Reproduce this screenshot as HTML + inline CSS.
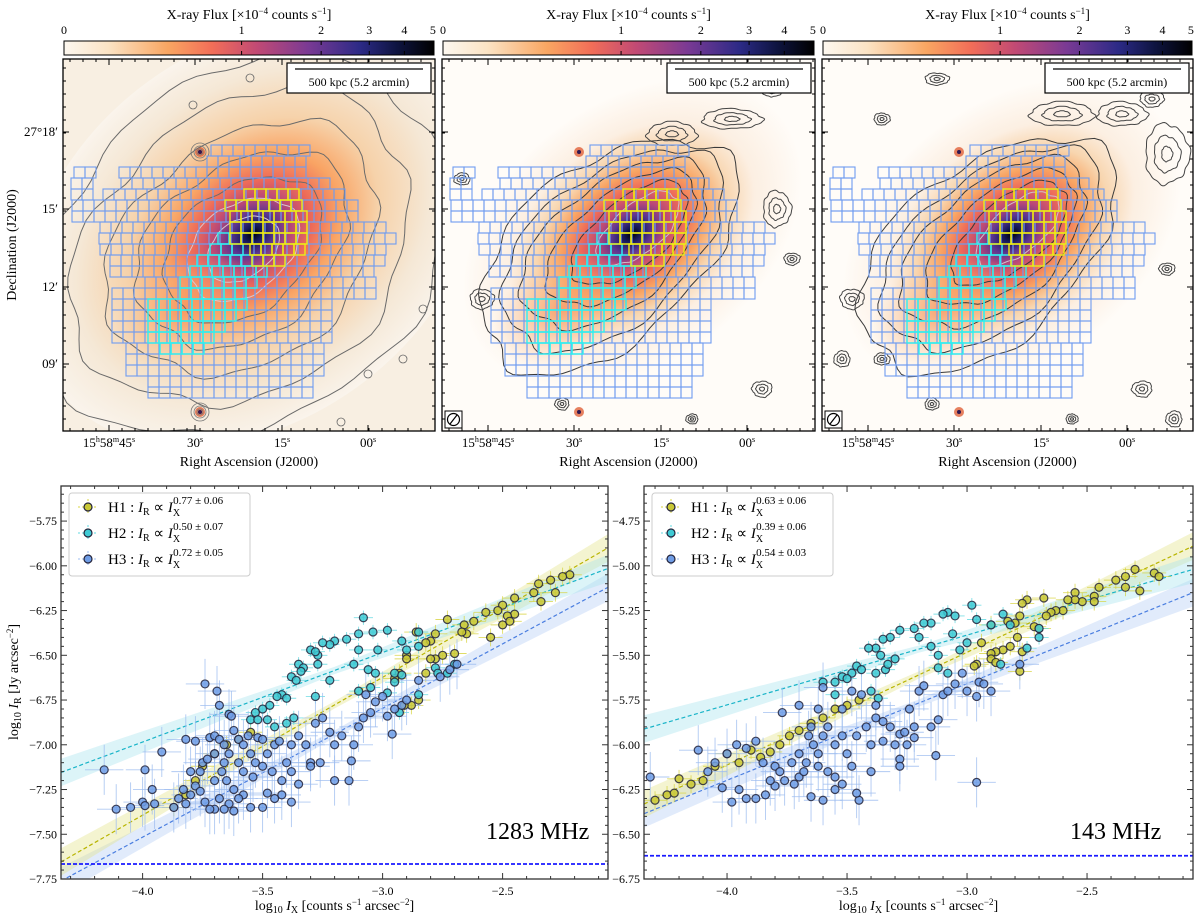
<!DOCTYPE html>
<html><head><meta charset="utf-8">
<style>
html,body{margin:0;padding:0;background:#fff;}
svg{display:block;font-family:"Liberation Serif",serif;}
</style></head>
<body>
<svg id="fig" width="1200" height="923" viewBox="0 0 1200 923" xmlns="http://www.w3.org/2000/svg">
<defs>
<linearGradient id="cmap" x1="0" x2="1" y1="0" y2="0">
<stop offset="0" stop-color="#fdf8f0"/><stop offset="0.12" stop-color="#fbe3c4"/>
<stop offset="0.28" stop-color="#f9a662"/><stop offset="0.4" stop-color="#f26e58"/>
<stop offset="0.52" stop-color="#c24a74"/><stop offset="0.66" stop-color="#7a3a94"/>
<stop offset="0.8" stop-color="#2c2a86"/><stop offset="0.9" stop-color="#0e1440"/>
<stop offset="1" stop-color="#000"/></linearGradient>
<radialGradient id="g1" gradientUnits="userSpaceOnUse" cx="0" cy="0" r="1">
<stop offset="0" stop-color="#000"/><stop offset="0.04" stop-color="#151a5a"/>
<stop offset="0.1" stop-color="#5a3590"/><stop offset="0.17" stop-color="#b84878"/>
<stop offset="0.26" stop-color="#ee6a58"/><stop offset="0.38" stop-color="#f9a464"/>
<stop offset="0.55" stop-color="#f6d2aa"/><stop offset="0.78" stop-color="#f5e8d6"/>
<stop offset="1" stop-color="#faf4ec"/></radialGradient>
<radialGradient id="g2" gradientUnits="userSpaceOnUse" cx="0" cy="0" r="1">
<stop offset="0" stop-color="#000"/><stop offset="0.05" stop-color="#151a5a"/>
<stop offset="0.12" stop-color="#5a3590"/><stop offset="0.2" stop-color="#b84878"/>
<stop offset="0.3" stop-color="#ee6a58"/><stop offset="0.42" stop-color="#f9a462"/>
<stop offset="0.56" stop-color="#f8d6b0"/><stop offset="0.72" stop-color="#fcefe2"/>
<stop offset="1" stop-color="#fffcf8"/></radialGradient>
<radialGradient id="gsw" gradientUnits="userSpaceOnUse" cx="0" cy="0" r="1">
<stop offset="0" stop-color="#f7905a" stop-opacity="0.75"/>
<stop offset="0.6" stop-color="#f8b07a" stop-opacity="0.35"/>
<stop offset="1" stop-color="#f8c090" stop-opacity="0"/></radialGradient>
</defs>
</svg>
<script>
// ---------- chart data (bottom panels) ----------
const xTicks=[-4.0,-3.5,-3.0,-2.5];
const xTickLabels=["\u22124.0","\u22123.5","\u22123.0","\u22122.5"];
const yTicksL=[-5.75,-6.0,-6.25,-6.5,-6.75,-7.0,-7.25,-7.5,-7.75];
const yTickLabelsL=["\u22125.75","\u22126.00","\u22126.25","\u22126.50","\u22126.75","\u22127.00","\u22127.25","\u22127.50","\u22127.75"];
const yTicksR=[-4.75,-5.0,-5.25,-5.5,-5.75,-6.0,-6.25,-6.5,-6.75];
const yTickLabelsR=["\u22124.75","\u22125.00","\u22125.25","\u22125.50","\u22125.75","\u22126.00","\u22126.25","\u22126.50","\u22126.75"];
const slopesL=[0.77,0.50,0.72];
const slopeErrL=["0.77 \u00b1 0.06","0.50 \u00b1 0.07","0.72 \u00b1 0.05"];
const interceptsAtRightL=[-5.90,-6.015,-6.12];
const slopesR=[0.63,0.39,0.54];
const slopeErrR=["0.63 \u00b1 0.06","0.39 \u00b1 0.06","0.54 \u00b1 0.03"];
const interceptsAtRightR=[-4.89,-5.02,-5.15];
const noiseL=-7.666, noiseR=-6.62;
const h1L=[[-2.22,-6.05],[-2.25,-6.06],[-2.3,-6.08],[-2.35,-6.1],[-2.34,-6.2],[-2.28,-6.15],[-2.37,-6.15],[-2.45,-6.18],[-2.5,-6.22],[-2.45,-6.27],[-2.48,-6.28],[-2.52,-6.25],[-2.57,-6.26],[-2.55,-6.4],[-2.5,-6.33],[-2.47,-6.31],[-2.62,-6.31],[-2.66,-6.33],[-2.65,-6.38],[-2.67,-6.37],[-2.73,-6.3],[-2.78,-6.38],[-2.8,-6.42],[-2.82,-6.43],[-2.9,-6.5],[-2.75,-6.5],[-2.78,-6.52],[-2.8,-6.52],[-2.7,-6.49],[-2.9,-6.52],[-2.93,-6.6],[-2.95,-6.63],[-2.88,-6.78],[-2.85,-6.75],[-2.82,-6.6],[-2.86,-6.37],[-2.91,-6.78],[-3.87,-7.35],[-3.82,-7.28],[-3.78,-7.2],[-3.75,-7.12],[-3.7,-7.05],[-3.65,-7.0],[-3.6,-6.97],[-3.55,-6.93]];
const h2L=[[-3.08,-6.29],[-2.98,-6.36],[-3.04,-6.37],[-3.1,-6.38],[-3.15,-6.41],[-3.2,-6.42],[-3.22,-6.44],[-3.25,-6.43],[-3.3,-6.47],[-3.27,-6.5],[-3.28,-6.48],[-3.1,-6.47],[-3.02,-6.47],[-2.9,-6.47],[-2.85,-6.45],[-2.85,-6.37],[-2.92,-6.42],[-3.35,-6.55],[-3.33,-6.57],[-3.27,-6.55],[-3.34,-6.59],[-3.38,-6.62],[-3.36,-6.64],[-3.22,-6.64],[-3.12,-6.55],[-3.06,-6.58],[-3.03,-6.6],[-2.95,-6.6],[-2.95,-6.65],[-2.92,-6.61],[-2.78,-6.57],[-2.7,-6.55],[-2.77,-6.6],[-2.73,-6.6],[-3.42,-6.72],[-3.4,-6.74],[-3.44,-6.73],[-3.28,-6.73],[-3.5,-6.8],[-3.47,-6.78],[-3.53,-6.82],[-3.55,-6.86],[-3.52,-6.86],[-3.48,-6.86],[-3.4,-6.88],[-3.37,-6.85],[-3.1,-6.7],[-3.05,-6.68],[-2.98,-6.71],[-2.93,-6.82],[-2.85,-6.72],[-3.45,-6.9]];
const h3L=[[-4.16,-7.14],[-4.11,-7.36],[-4.05,-7.35],[-4.0,-7.32],[-3.99,-7.34],[-3.95,-7.33],[-3.96,-7.25],[-3.99,-7.14],[-3.92,-7.04],[-3.87,-7.35],[-3.85,-7.3],[-3.83,-7.25],[-3.82,-7.33],[-3.8,-7.28],[-3.78,-7.23],[-3.76,-7.15],[-3.8,-7.15],[-3.82,-6.97],[-3.78,-6.98],[-3.75,-7.1],[-3.73,-7.08],[-3.72,-6.96],[-3.74,-6.66],[-3.69,-6.7],[-3.68,-6.78],[-3.7,-6.95],[-3.68,-6.97],[-3.66,-7.0],[-3.64,-6.83],[-3.63,-6.84],[-3.62,-6.92],[-3.64,-7.05],[-3.66,-7.1],[-3.6,-6.97],[-3.58,-7.0],[-3.56,-6.95],[-3.55,-7.05],[-3.53,-7.1],[-3.52,-6.96],[-3.5,-6.97],[-3.48,-7.05],[-3.45,-7.0],[-3.43,-6.98],[-3.4,-7.1],[-3.38,-7.0],[-3.35,-6.95],[-3.32,-7.0],[-3.3,-7.1],[-3.28,-6.88],[-3.25,-6.85],[-3.22,-6.93],[-3.2,-7.0],[-3.17,-6.95],[-3.13,-7.09],[-3.12,-7.0],[-3.1,-6.9],[-3.08,-6.85],[-3.05,-6.82],[-3.03,-6.76],[-3.0,-6.73],[-2.98,-6.84],[-2.96,-6.94],[-2.95,-6.8],[-2.92,-6.78],[-3.07,-6.72],[-3.2,-7.2],[-3.14,-7.2],[-3.35,-7.22],[-3.38,-7.32],[-3.42,-7.28],[-3.45,-7.3],[-3.48,-7.27],[-3.5,-7.35],[-3.55,-7.35],[-3.58,-7.28],[-3.6,-7.3],[-3.62,-7.37],[-3.64,-7.33],[-3.66,-7.36],[-3.68,-7.3],[-3.7,-7.36],[-3.72,-7.36],[-3.74,-7.32],[-3.76,-7.26],[-3.7,-7.2],[-3.65,-7.2],[-3.62,-7.25],[-3.58,-7.15],[-3.54,-7.18],[-3.5,-7.12],[-3.46,-7.15],[-3.42,-7.2],[-3.38,-7.15],[-3.3,-7.12],[-3.26,-7.1],[-2.76,-6.62],[-2.69,-6.55],[-2.72,-6.58],[-2.85,-6.64],[-2.9,-6.75],[-3.6,-7.1],[-3.67,-7.15],[-3.7,-7.05]];
const h1R=[[-2.3,-5.02],[-2.34,-5.06],[-2.38,-5.08],[-2.22,-5.04],[-2.2,-5.06],[-2.28,-5.14],[-2.34,-5.12],[-2.45,-5.12],[-2.47,-5.17],[-2.47,-5.2],[-2.52,-5.2],[-2.55,-5.15],[-2.55,-5.19],[-2.58,-5.19],[-2.6,-5.25],[-2.63,-5.25],[-2.65,-5.26],[-2.67,-5.28],[-2.68,-5.18],[-2.75,-5.19],[-2.77,-5.21],[-2.8,-5.32],[-2.78,-5.28],[-2.83,-5.31],[-2.72,-5.34],[-2.79,-5.4],[-2.82,-5.45],[-2.85,-5.47],[-2.88,-5.48],[-2.9,-5.49],[-2.9,-5.52],[-2.94,-5.43],[-2.96,-5.55],[-2.97,-5.56],[-2.78,-5.59],[-2.77,-5.48],[-2.7,-5.35],[-2.88,-5.54],[-2.9,-5.33],[-4.3,-6.31],[-4.25,-6.28],[-4.22,-6.27],[-4.2,-6.19],[-4.15,-6.22],[-4.1,-6.2],[-4.05,-6.12],[-4.0,-6.05],[-3.95,-6.1],[-3.9,-6.03],[-3.86,-6.07],[-3.82,-6.04],[-3.78,-6.0],[-3.74,-5.95],[-3.7,-5.92],[-3.65,-5.88],[-3.6,-5.85],[-3.55,-5.8],[-3.5,-5.78],[-3.45,-5.75]];
const h2R=[[-2.98,-5.22],[-3.08,-5.26],[-3.1,-5.27],[-3.15,-5.32],[-3.18,-5.32],[-3.22,-5.35],[-3.28,-5.36],[-3.32,-5.4],[-3.35,-5.41],[-3.38,-5.46],[-3.41,-5.46],[-3.36,-5.5],[-3.3,-5.52],[-3.2,-5.4],[-3.15,-5.45],[-3.05,-5.28],[-2.96,-5.3],[-2.9,-5.33],[-2.85,-5.27],[-2.82,-5.33],[-2.7,-5.35],[-2.7,-5.4],[-2.75,-5.46],[-2.86,-5.55],[-3.0,-5.43],[-3.06,-5.38],[-3.12,-5.5],[-3.46,-5.56],[-3.48,-5.6],[-3.52,-5.62],[-3.55,-5.65],[-3.5,-5.63],[-3.44,-5.58],[-3.38,-5.6],[-3.34,-5.58],[-3.4,-5.7],[-3.37,-5.74],[-3.33,-5.55],[-3.55,-5.72],[-3.6,-5.65],[-3.12,-5.57],[-3.08,-5.6],[-3.03,-5.47]];
const h3R=[[-4.32,-6.18],[-4.12,-6.03],[-4.0,-6.05],[-3.96,-6.0],[-3.92,-6.02],[-3.88,-5.98],[-3.85,-6.1],[-3.8,-6.12],[-3.77,-5.82],[-3.7,-5.78],[-3.65,-5.9],[-3.6,-5.68],[-3.58,-5.9],[-3.55,-6.0],[-3.52,-5.95],[-3.5,-6.05],[-3.48,-6.12],[-3.46,-5.95],[-3.42,-5.9],[-3.4,-6.0],[-3.38,-5.85],[-3.35,-5.87],[-3.32,-5.9],[-3.3,-6.0],[-3.28,-5.94],[-3.26,-5.93],[-3.24,-5.8],[-3.22,-5.9],[-3.2,-5.7],[-3.18,-5.67],[-3.15,-5.9],[-3.12,-5.86],[-3.1,-5.72],[-3.08,-5.7],[-3.05,-5.66],[-3.02,-5.6],[-3.0,-5.7],[-2.96,-5.73],[-2.95,-5.65],[-2.93,-5.66],[-2.9,-5.7],[-2.78,-5.55],[-2.96,-6.21],[-3.13,-6.06],[-3.28,-6.08],[-3.28,-6.12],[-3.45,-6.31],[-3.46,-6.27],[-3.55,-6.25],[-3.6,-6.31],[-3.65,-6.29],[-3.7,-6.18],[-3.72,-6.22],[-3.76,-6.2],[-3.8,-6.23],[-3.84,-6.28],[-3.88,-6.3],[-3.92,-6.3],[-3.95,-6.25],[-3.98,-6.32],[-4.02,-6.24],[-3.67,-6.1],[-3.62,-6.05],[-3.58,-6.15],[-3.55,-6.18],[-3.52,-6.22],[-3.7,-6.05],[-3.73,-6.1],[-3.78,-6.15],[-3.82,-6.2],[-3.64,-6.0],[-3.62,-6.12],[-3.68,-6.15],[-3.6,-5.95],[-3.66,-5.95],[-3.4,-6.15],[-3.35,-5.98],[-3.25,-6.0],[-3.22,-5.96],[-3.38,-5.78],[-3.44,-5.72],[-3.48,-5.7],[-3.52,-5.8],[-3.62,-5.8],[-4.05,-6.1],[-4.08,-6.15]];
const xErr=[0.05,0.04,0.08], yErr=[0.05,0.04,0.14];

// ---------- top panel grid layout (cell rows) ----------
const gridRows=[[145,211,309],[156,207,314],[167,74,96],[167,119,314],[178,71,101],[178,121,336],[189,71,101],[189,103,352],[200,72,365],[211,72,365],[222,100,385],[233,99,401],[244,100,393],[255,110,388],[266,110,373],[277,145,378],[288,112,377],[299,112,332],[310,112,332],[321,112,332],[332,112,332],[343,126,330],[354,126,330],[365,126,330],[376,148,320],[387,148,320]];
const yellowRows=[[189,244,297],[200,225,305],[211,230,305],[222,230,305],[233,230,305],[244,250,305],[255,252,284]];
const cyanRows=[[233,218,230],[244,210,250],[255,197,252],[266,190,265],[277,180,265],[288,180,250],[299,148,245],[310,148,240],[321,148,225],[332,148,212],[343,160,202]];

const NS="http://www.w3.org/2000/svg";
const svg=document.getElementById('fig');
function mk(tag,attrs,parent){const e=document.createElementNS(NS,tag);for(const k in attrs)e.setAttribute(k,attrs[k]);(parent||svg).appendChild(e);return e;}
function wobbly(cx,cy,rx,ry,rot,amp,seed){
  let d='';const a=rot*Math.PI/180;
  for(let t=0;t<=90;t++){const th=t/90*2*Math.PI;
    const r=1+amp*(Math.sin(7*th+seed)*0.5+Math.sin(13*th+2*seed)*0.3+Math.sin(3*th+seed*0.7)*0.6);
    const ex=rx*r*Math.cos(th), ey=ry*r*Math.sin(th);
    const X=cx+ex*Math.cos(a)-ey*Math.sin(a), Y=cy+ex*Math.sin(a)+ey*Math.cos(a);
    d+=(t?'L':'M')+X.toFixed(1)+' '+Y.toFixed(1);}
  return d+'Z';
}

// ---------- top panels ----------
const panels=[{x:63,y:59,w:372,h:372,dx:0,grad:'g1',radio:false},{x:442,y:59,w:373,h:372,dx:379,grad:'g2',radio:true},{x:822,y:59,w:371,h:372,dx:759,grad:'g2',radio:true}];
const cbTicks=[0,1,2,3,4,5], cbPos=[0,0.48,0.695,0.825,0.92,0.997];
panels.forEach((p,i)=>{
  const g=mk('g',{});
  
  
  const cp=mk('clipPath',{id:'cp'+i},g); mk('rect',{x:p.x,y:p.y,width:p.w,height:p.h},cp);
  const inner=mk('g',{'clip-path':'url(#cp'+i+')'},g);
  mk('rect',{x:p.x,y:p.y,width:p.w,height:p.h,fill:p.grad==='g1'?'#f8efe2':'#fffcf8'},inner);
  const cx=p.x+190, cy=p.y+175;
  const el=mk('ellipse',{cx:0,cy:0,rx:1,ry:1,fill:'url(#'+p.grad+')',transform:`translate(${cx},${cy}) rotate(-38) scale(${p.radio?190:250},${p.radio?130:185})`},inner);
  
  
  mk('ellipse',{cx:0,cy:0,rx:1,ry:1,fill:'url(#gsw)',transform:`translate(${p.x+120},${p.y+250}) rotate(-30) scale(75,50)`},inner);
  // point sources
  [[137,93],[137,353]].forEach(s=>{mk('circle',{cx:p.x+s[0],cy:p.y+s[1],r:5,fill:'#e0603a',opacity:0.8},inner);mk('circle',{cx:p.x+s[0],cy:p.y+s[1],r:2,fill:'#301850'},inner);});
  // contours
  if(!p.radio){
    [[40,28,0.03],[62,44,0.04],[88,62,0.05],[118,84,0.06],[150,110,0.06],[185,140,0.06],[222,170,0.05]].forEach((a,k)=>{
      mk('path',{d:wobbly(p.x+180,p.y+190,a[0],a[1],-38,a[2],k),fill:'none',stroke:k<2?'#d8c8d0':'#6a6a6a','stroke-width':1},inner);
    });
    [[137,93],[137,353]].forEach(s=>{[3,6,9].forEach(r=>mk('circle',{cx:p.x+s[0],cy:p.y+s[1],r:r,fill:'none',stroke:'#777','stroke-width':0.8},inner));});
    [[187,19],[130,46],[340,300],[305,315],[278,363],[360,250]].forEach(s=>mk('circle',{cx:p.x+s[0],cy:p.y+s[1],r:4,fill:'none',stroke:'#666','stroke-width':0.8},inner));
  } else {
    const shapes=[[165,195,150,88,0.07],[170,190,130,74,0.06],[172,185,110,60,0.06],[180,180,90,46,0.05],[188,175,70,34,0.05],[196,170,50,24,0.05]];
    shapes.forEach((s,k)=>{
      mk('path',{d:wobbly(p.x+s[0],p.y+s[1],s[2],s[3],-40,s[4],k+i),fill:'none',stroke:k>4?'#d0c0cc':'#3a3a3a','stroke-width':1},inner);
    });
    const blobs=i===2?[[240,55,32,12],[300,55,25,12],[345,95,22,30],[115,20,12,6],[30,240,12,10],[345,210,8,6],[320,330,10,8],[352,360,8,8],[20,300,8,8],[60,300,8,6],[110,345,7,6],[250,360,6,5],[60,60,8,6],[330,40,12,8]]:[[230,75,25,12],[290,60,30,10],[335,150,14,18],[40,240,12,10],[350,200,8,6],[320,330,10,8],[120,345,7,6],[250,360,6,5],[20,120,8,6],[330,30,10,8]];
    blobs.forEach((b,k)=>{[1,0.6,0.25].forEach(f=>mk('path',{d:wobbly(p.x+b[0],p.y+b[1],b[2]*f,b[3]*f,0,0.08,k),fill:'none',stroke:'#444','stroke-width':1},inner));});
    // beam
    mk('rect',{x:p.x+3,y:p.y+p.h-20,width:17,height:17,fill:'#fff',stroke:'#000','stroke-width':1},g);
    mk('circle',{cx:p.x+11.5,cy:p.y+p.h-11.5,r:6,fill:'none',stroke:'#000','stroke-width':1.2},g);
    mk('line',{x1:p.x+8,y1:p.y+p.h-7,x2:p.x+15,y2:p.y+p.h-16,stroke:'#000','stroke-width':1.2},g);
  }
  // grid cells
  const drawRows=(rows,col,sw)=>rows.forEach(r=>{for(let x=r[1];x+10<=r[2]+1;x+=11){
    const c=mk('rect',{x:x+p.dx,y:r[0],width:11,height:11,fill:'none',stroke:col,'stroke-width':sw},inner);
    
    }});
  drawRows(gridRows,'#6f9cf0',1.1);drawRows(cyanRows,'#2ef0f0',1.4);drawRows(yellowRows,'#f0ec10',1.4);
  // frame & ticks
  mk('rect',{x:p.x,y:p.y,width:p.w,height:p.h,fill:'none',stroke:'#000','stroke-width':1.3},g);
  const raX=[109,195,282,368], decY=[132,209,287,364];
  for(let k=0;k<30;k++){const tx=p.x+7+k*13;if(tx>p.x+p.w-2)break;mk('line',{x1:tx,y1:p.y+p.h,x2:tx,y2:p.y+p.h-3,stroke:'#000'},g);mk('line',{x1:tx,y1:p.y,x2:tx,y2:p.y+3,stroke:'#000'},g);}
  for(let k=0;k<30;k++){const ty=p.y+9+k*13;if(ty>p.y+p.h-2)break;mk('line',{x1:p.x,y1:ty,x2:p.x+3,y2:ty,stroke:'#000'},g);mk('line',{x1:p.x+p.w,y1:ty,x2:p.x+p.w-3,y2:ty,stroke:'#000'},g);}
  raX.forEach(x=>{mk('line',{x1:x+p.dx,y1:p.y+p.h,x2:x+p.dx,y2:p.y+p.h-6,stroke:'#000'},g);mk('line',{x1:x+p.dx,y1:p.y,x2:x+p.dx,y2:p.y+6,stroke:'#000'},g);});
  decY.forEach(y=>{mk('line',{x1:p.x,y1:y,x2:p.x+6,y2:y,stroke:'#000'},g);mk('line',{x1:p.x+p.w,y1:y,x2:p.x+p.w-6,y2:y,stroke:'#000'},g);});
  const raL=['15<tspan font-size="8" dy="-5">h</tspan><tspan dy="5">58</tspan><tspan font-size="8" dy="-5">m</tspan><tspan dy="5">45</tspan><tspan font-size="8" dy="-5">s</tspan>','30<tspan font-size="8" dy="-5">s</tspan>','15<tspan font-size="8" dy="-5">s</tspan>','00<tspan font-size="8" dy="-5">s</tspan>'];
  raX.forEach((x,k)=>{const t=mk('text',{x:x+p.dx,y:447,'text-anchor':'middle','font-size':13},g);t.innerHTML=raL[k];
    
    });
  const xt=mk('text',{x:p.x+p.w/2,y:466,'text-anchor':'middle','font-size':14},g);xt.textContent='Right Ascension (J2000)';
  
  
  // scale bar
  const sb=mk('g',{},g);
  
  
  mk('rect',{x:p.x+p.w-148,y:p.y+4,width:144,height:30,fill:'#fff',stroke:'#000','stroke-width':1.2},sb);
  mk('line',{x1:p.x+p.w-140,y1:p.y+10,x2:p.x+p.w-12,y2:p.y+10,stroke:'#000','stroke-width':1.3},sb);
  const st=mk('text',{x:p.x+p.w-76,y:p.y+27,'text-anchor':'middle','font-size':12},sb);st.textContent='500 kpc (5.2 arcmin)';
  // colorbar
  const cb=mk('g',{},g);
  
  
  mk('rect',{x:p.x+1,y:41,width:p.w-2,height:14,fill:'url(#cmap)',stroke:'#000','stroke-width':1},cb);
  cbTicks.forEach((v,k)=>{const x=p.x+1+cbPos[k]*(p.w-2);mk('line',{x1:x,y1:41,x2:x,y2:45,stroke:'#000'},cb);mk('line',{x1:x,y1:55,x2:x,y2:51,stroke:'#000'},cb);
    const t=mk('text',{x:x,y:34,'text-anchor':'middle','font-size':12},cb);t.textContent=v;});
  const ct=mk('text',{x:p.x+p.w/2,y:19,'text-anchor':'middle','font-size':14},cb);
  ct.innerHTML='X-ray Flux [\u00d710<tspan font-size="9" dy="-5">\u22124</tspan><tspan dy="5"> counts s</tspan><tspan font-size="9" dy="-5">\u22121</tspan><tspan dy="5">]</tspan>';
});
// dec labels
['27\u00b018\u2032','15\u2032','12\u2032','09\u2032'].forEach((s,k)=>{const t=mk('text',{x:58,y:[132,209,287,364][k]+4,'text-anchor':'end','font-size':13});t.textContent=s;
  
  });
const dt=mk('text',{x:0,y:0,'text-anchor':'middle','font-size':14,transform:'translate(16,245) rotate(-90)'});dt.textContent='Declination (J2000)';



// ---------- bottom scatter plots ----------
const plots=[
 {name:'1283mhz',L:61,R:608,T:486,B:879,xmin:-4.34,yTop:-5.554,yBot:-7.75,yT:yTicksL,yL:yTickLabelsL,slopes:slopesL,ints:interceptsAtRightL,err:slopeErrL,noise:noiseL,series:[h1L,h2L,h3L],label:'1283 MHz',lx:486,ylabel:true},
 {name:'143mhz',L:644,R:1193,T:486,B:879,xmin:-4.346,yTop:-4.554,yBot:-6.75,yT:yTicksR,yL:yTickLabelsR,slopes:slopesR,ints:interceptsAtRightR,err:slopeErrR,noise:noiseR,series:[h1R,h2R,h3R],label:'143 MHz',lx:1070,ylabel:false}];
const fill=['#c9c836','#3ecad4','#6f9de6'], lineC=['#b8b400','#18b4c8','#4a7ee0'], errC=['#d8d440','#60d8e0','#9cbcf0'], bandC=['#e4e48a','#a8e4ee','#b4ccf4'];
plots.forEach(P=>{
  const xmax=P.xmin+(P.R-P.L)/240;
  const sx=v=>P.L+(v-P.xmin)*240, sy=v=>P.T+(P.yTop-v)*(P.B-P.T)/(P.yTop-P.yBot);
  const g=mk('g',{});
  
  
  const cid='pc'+P.name;const cp=mk('clipPath',{id:cid},g);mk('rect',{x:P.L,y:P.T,width:P.R-P.L,height:P.B-P.T},cp);
  const inner=mk('g',{'clip-path':`url(#${cid})`},g);
  [2,0,1].forEach(s=>{
    const f=x=>P.ints[s]+P.slopes[s]*(x-xmax);const piv=-3.2;
    const w=x=>0.02+0.05*Math.abs(x-piv);
    let up='',lo='';const n=20;
    for(let k=0;k<=n;k++){const x=P.xmin+(xmax-P.xmin)*k/n;up+=(k?'L':'M')+sx(x).toFixed(1)+' '+sy(f(x)+w(x)).toFixed(1);}
    for(let k=n;k>=0;k--){const x=P.xmin+(xmax-P.xmin)*k/n;lo+='L'+sx(x).toFixed(1)+' '+sy(f(x)-w(x)).toFixed(1);}
    const b=mk('path',{d:up+lo+'Z',fill:bandC[s],opacity:0.4},inner);
    
    
  });
  [2,0,1].forEach(s=>{
    const f=x=>P.ints[s]+P.slopes[s]*(x-xmax);
    const l=mk('line',{x1:sx(P.xmin),y1:sy(f(P.xmin)),x2:sx(xmax),y2:sy(f(xmax)),stroke:lineC[s],'stroke-width':1.2,'stroke-dasharray':'4,2.5'},inner);
    
    
  });
  const nl=mk('line',{x1:P.L,y1:sy(P.noise),x2:P.R,y2:sy(P.noise),stroke:'#1a1aff','stroke-width':1.8,'stroke-dasharray':'4,2'},inner);
  
  
  P.series.forEach((ser,s)=>ser.forEach(d=>{
    mk('line',{x1:sx(d[0]-xErr[s]),y1:sy(d[1]),x2:sx(d[0]+xErr[s]),y2:sy(d[1]),stroke:errC[s],'stroke-width':0.9,opacity:0.8},inner);
    mk('line',{x1:sx(d[0]),y1:sy(d[1]-yErr[s]),x2:sx(d[0]),y2:sy(d[1]+yErr[s]),stroke:errC[s],'stroke-width':0.9,opacity:0.8},inner);
  }));
  P.series.forEach((ser,s)=>ser.forEach(d=>{
    const c=mk('circle',{cx:sx(d[0]),cy:sy(d[1]),r:4,fill:fill[s],'fill-opacity':0.85,stroke:'#23233a','stroke-width':1.2,'stroke-opacity':0.85},inner);
    
    
  }));
  mk('rect',{x:P.L,y:P.T,width:P.R-P.L,height:P.B-P.T,fill:'none',stroke:'#333','stroke-width':1.3},g);
  for(let v=Math.ceil(P.xmin*10)/10;v<=xmax;v+=0.1){const x=sx(v);const major=Math.abs(v*2-Math.round(v*2))<1e-6;const L=major?6:3;
    mk('line',{x1:x,y1:P.B,x2:x,y2:P.B-L,stroke:'#333'},g);mk('line',{x1:x,y1:P.T,x2:x,y2:P.T+L,stroke:'#333'},g);}
  for(let v=Math.ceil(P.yBot*20)/20;v<=P.yTop;v+=0.05){const y=sy(v);const major=Math.abs(v*4-Math.round(v*4))<1e-6;const L=major?6:3;
    mk('line',{x1:P.L,y1:y,x2:P.L+L,y2:y,stroke:'#333'},g);mk('line',{x1:P.R,y1:y,x2:P.R-L,y2:y,stroke:'#333'},g);}
  xTicks.forEach((v,k)=>{const t=mk('text',{x:sx(v),y:P.B+16,'text-anchor':'middle','font-size':12},g);t.textContent=xTickLabels[k];
    
    });
  P.yT.forEach((v,k)=>{const t=mk('text',{x:P.L-4,y:sy(v)+4,'text-anchor':'end','font-size':12},g);t.textContent=P.yL[k];
    
    });
  const xl=mk('text',{x:(P.L+P.R)/2,y:910,'text-anchor':'middle','font-size':14},g);
  xl.innerHTML='log<tspan font-size="10" dy="3">10</tspan><tspan dy="-3"> </tspan><tspan font-style="italic">I</tspan><tspan font-size="10" dy="3">X</tspan><tspan dy="-3"> [counts s</tspan><tspan font-size="9" dy="-5">\u22121</tspan><tspan dy="5"> arcsec</tspan><tspan font-size="9" dy="-5">\u22122</tspan><tspan dy="5">]</tspan>';
  
  
  if(P.ylabel){const yl=mk('text',{x:0,y:0,'text-anchor':'middle','font-size':14,transform:'translate(18,682) rotate(-90)'},g);
    yl.innerHTML='log<tspan font-size="10" dy="3">10</tspan><tspan dy="-3"> </tspan><tspan font-style="italic">I</tspan><tspan font-size="10" dy="3">R</tspan><tspan dy="-3"> [Jy arcsec</tspan><tspan font-size="9" dy="-5">\u22122</tspan><tspan dy="5">]</tspan>';
    
    }
  const fl=mk('text',{x:P.lx,y:839,'font-size':24},g);fl.textContent=P.label;
  
  
  const lg=mk('g',{},g);
  
  
  mk('rect',{x:P.L+8,y:493,width:181,height:83,rx:3,fill:'#fff','fill-opacity':0.85,stroke:'#ccc'},lg);
  [0,1,2].forEach(s=>{
    const y=507+s*26, x0=P.L+27;
    const e=mk('g',{},lg);
    
    
    mk('line',{x1:x0-10,y1:y,x2:x0+10,y2:y,stroke:errC[s],'stroke-dasharray':'2,2'},e);
    mk('line',{x1:x0,y1:y-8,x2:x0,y2:y+8,stroke:errC[s],'stroke-dasharray':'2,2'},e);
    mk('circle',{cx:x0,cy:y,r:4,fill:fill[s],stroke:'#23233a','stroke-width':1.2},e);
    const t=mk('text',{x:P.L+47,y:y+5,'font-size':15},e);
    t.innerHTML='H'+(s+1)+' : <tspan font-style="italic">I</tspan><tspan font-size="10" dy="3">R</tspan><tspan dy="-3"> \u221d </tspan><tspan font-style="italic">I</tspan><tspan font-size="10" dy="4">X</tspan><tspan font-size="11" dx="-7" dy="-12">'+P.err[s]+'</tspan>';
  });
});
</script>
</body></html>
